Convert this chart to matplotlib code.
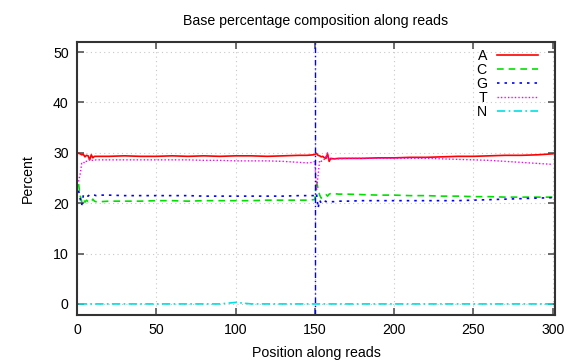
import numpy as np
import matplotlib.pyplot as plt

plt.rcParams['font.family'] = ['Liberation Sans', 'DejaVu Sans']

# positions along reads (sparse sampling of the curves)
pos = [1, 2, 3, 4, 5, 6, 7, 8, 9, 10, 11, 12, 15, 20, 30, 40, 50, 60, 70, 80,
       90, 100, 110, 120, 130, 140, 145, 149, 150, 151, 152, 153, 154, 155,
       156, 157, 158, 159, 160, 162, 165, 170, 180, 190, 200, 210, 220, 230,
       240, 250, 260, 270, 280, 290, 300]

pct_A = [29.9, 29.8, 29.6, 29.7, 29.2, 29.5, 29.4, 28.6, 29.6, 29.0, 29.3, 29.3, 29.3, 29.3, 29.4, 29.3, 29.3, 29.4, 29.3,
         29.4, 29.3, 29.4, 29.4, 29.3, 29.4, 29.5, 29.5, 29.6, 29.7, 29.9, 29.5, 29.4, 29.2, 29.3,
         29.0, 28.9, 29.8, 28.3, 28.9, 28.8, 28.9, 28.9, 28.9, 29.0, 29.0, 29.1, 29.1, 29.2,
         29.3, 29.3, 29.4, 29.5, 29.5, 29.6, 29.8]

pct_C = [23.8, 21.5, 20.3, 20.9, 20.2, 20.6, 20.3, 20.5, 20.3, 20.8, 20.4, 20.3, 20.3, 20.4, 20.4, 20.4, 20.5, 20.5, 20.4,
         20.5, 20.5, 20.5, 20.5, 20.6, 20.6, 20.6, 20.6, 20.7, 20.7, 24.5, 22.8, 21.6, 21.0, 21.4,
         21.5, 21.7, 21.4, 21.8, 21.9, 21.9, 21.8, 21.8, 21.7, 21.6, 21.6, 21.5, 21.5, 21.4,
         21.4, 21.3, 21.3, 21.2, 21.2, 21.2, 21.2]

pct_G = [22.5, 20.9, 19.6, 21.6, 21.8, 21.5, 21.4, 21.7, 21.6, 21.6, 21.6, 21.5, 21.6, 21.6, 21.5, 21.5, 21.5, 21.5, 21.5,
         21.4, 21.4, 21.4, 21.4, 21.4, 21.4, 21.5, 21.5, 21.5, 21.6, 22.0, 19.0, 20.6, 20.0, 20.4,
         20.5, 20.3, 20.4, 20.3, 20.3, 20.3, 20.4, 20.4, 20.5, 20.5, 20.5, 20.5, 20.5, 20.5,
         20.5, 20.6, 20.7, 20.8, 20.9, 21.0, 21.1]

pct_T = [24.3, 25.8, 27.9, 27.8, 28.4, 28.3, 28.4, 28.7, 28.5, 28.5, 28.5, 28.6, 28.6, 28.6, 28.6, 28.6, 28.6, 28.6, 28.6,
         28.5, 28.5, 28.4, 28.4, 28.4, 28.3, 28.1, 28.0, 28.1, 28.3, 22.5, 25.5, 28.5, 28.3, 28.6,
         28.7, 29.3, 30.0, 28.6, 28.8, 28.8, 28.8, 28.9, 28.9, 28.9, 28.9, 28.9, 28.9, 28.8,
         28.7, 28.6, 28.5, 28.3, 28.1, 27.9, 27.7]

pct_N = [0.0] * 21 + [0.3] + [0.0] * 33

read_boundary = 150

fs = 10.2
fig = plt.figure(figsize=(5.76, 3.6), dpi=100)
ax = fig.add_axes([77 / 576, 1 - 315 / 360, (555 - 77) / 576, (315 - 42) / 360])

ax.plot(pos, pct_A, color='#ff0000', lw=1.2, ls='-', label='A')
ax.plot(pos, pct_C, color='#00e000', lw=1.2, ls=(0, (4, 3)), label='C')
ax.plot(pos, pct_G, color='#0000ff', lw=1.2, ls=(0, (1.5, 3)), label='G')
ax.plot(pos, pct_T, color='#ff00ff', lw=1.0, ls=(0, (1, 1.5)), label='T')
ax.plot(pos, pct_N, color='#00e0e0', lw=1.2, ls=(0, (5, 2, 1, 2)), label='N')
ax.axvline(read_boundary, color='#0000ff', lw=1.0, ls=(0, (4, 2, 1, 2)))

ax.set_xlim(0, 301.4)
ax.set_ylim(-2.2, 52)
ax.set_xticks(range(0, 301, 50))
ax.set_yticks(range(0, 51, 10))
ax.grid(True, color='#c8c8c8', ls=(0, (1, 3)), lw=0.8)
ax.tick_params(direction='in', length=5, width=1.2, top=True, right=True,
               labelsize=fs, colors='#555555', labelcolor='black', pad=6)
for sp in ax.spines.values():
    sp.set_color('#333333')
    sp.set_linewidth(1.5)

leg = ax.legend(loc='upper right', bbox_to_anchor=(535 / 576 + 0.005, 1 - 49 / 360),
                bbox_transform=fig.transFigure, frameon=False, markerfirst=False,
                fontsize=fs, handlelength=2.9, labelspacing=0.0,
                borderaxespad=0.0, borderpad=0.0, handletextpad=0.7)

ax.set_title('Base percentage composition along reads', fontsize=fs, pad=12)
ax.set_xlabel('Position along reads', fontsize=fs, labelpad=6)
ax.set_ylabel('Percent', fontsize=fs, labelpad=13)

fig.savefig('out.png', dpi=100)
